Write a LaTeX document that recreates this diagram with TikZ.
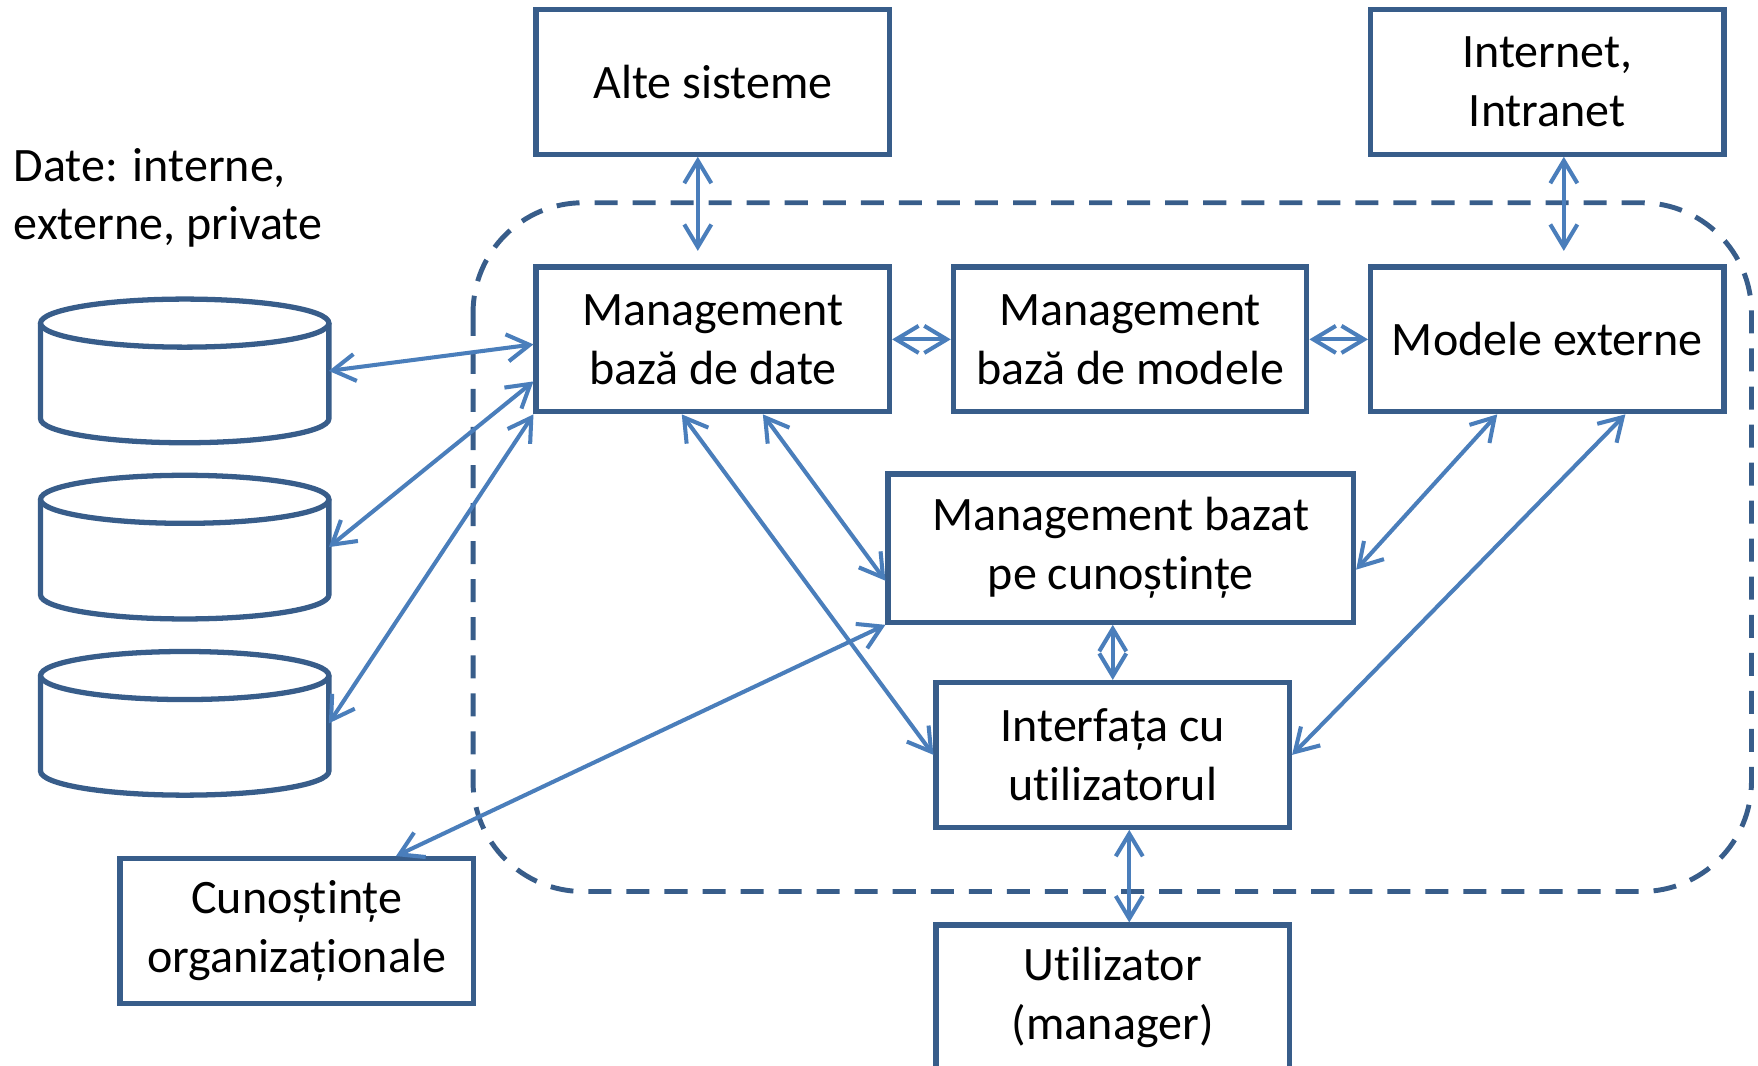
\documentclass[tikz,border=0pt]{standalone}
\usepackage{fontspec}
\setmainfont[Ligatures=NoCommon]{Carlito}
\usetikzlibrary{arrows.meta,positioning}
\definecolor{frame}{HTML}{385D8A}
\definecolor{wire}{HTML}{4A7EBB}
\tikzset{
  base/.style={font=\fontsize{27.3}{33.5}\selectfont,align=center,draw=frame,line width=3pt,fill=white,inner sep=2pt},
  box/.style={base,minimum width=7.06cm,minimum height=2.89cm},
  widebox/.style={base,minimum width=9.3cm,minimum height=2.96cm},
  store/.style={minimum width=5.76cm,minimum height=2.87cm,inner sep=0pt,outer sep=0pt},
  cask/.style={draw=frame,line width=3pt},
  boundary/.style={draw=frame,line width=2.8pt,dash pattern=on 0.46cm off 0.3cm,rounded corners=2.2cm},
  link/.style={<->,>={Straight Barb[length=4.5mm,width=5.4mm]},line width=2.3pt,draw=wire},
  note/.style={font=\fontsize{27.3}{33.5}\selectfont,align=left,inner sep=0pt}
}
\begin{document}
\begin{tikzpicture}[node distance=2.15cm and 1.17cm]
\useasboundingbox (0,0) rectangle (35.12,-21.28);
\draw[boundary] (9.45,-4.05) rectangle (34.99,-17.81);

\node[box] (mbd) at (14.24,-6.78) {Management\\bază de date};
\node[box,above=of mbd] (alte) {Alte sisteme};
\node[box,right=of mbd] (mbm) {Management\\bază de modele};
\node[box,right=of mbm] (modele) {Modele externe};
\node[box,above=of modele] (inet) {Internet,\\Intranet};
\node[widebox] (kb) at (22.39,-10.95) {Management bazat\\pe cunoștințe};
\node[box] (ui) at (22.23,-15.08) {Interfața cu\\utilizatorul};
\node[box,below=1.85cm of ui] (user) {Utilizator\\(manager)};
\node[box] (org) at (5.93,-18.60) {Cunoștințe\\organizaționale};

% data stores
\node[store] (db1) at (3.69,-7.41) {};
\node[store,below=0.65cm of db1] (db2) {};
\node[store,below=0.65cm of db2] (db3) {};
\foreach \d in {db1,db2,db3}{
  \draw[cask] ([yshift=-0.48cm]\d.north west) -- ([yshift=0.48cm]\d.south west)
    arc[start angle=180,end angle=360,x radius=2.88cm,y radius=0.48cm]
    -- ([yshift=-0.48cm]\d.north east);
  \draw[cask] ([yshift=-0.48cm]\d.north) ellipse[x radius=2.88cm,y radius=0.48cm];
}
\node[note,anchor=north west] (date) at (0.27,-2.95) {Date: interne,\\externe, private};

\draw[link,shorten >=0.27cm] ([xshift=-0.3cm]alte.south) -- ([xshift=-0.3cm]mbd.north);
\draw[link,shorten >=0.27cm] ([xshift=0.33cm]inet.south) -- ([xshift=0.33cm]modele.north);
\draw[link] (db1.east) -- ([yshift=-0.1cm]mbd.west);
\draw[link] (db2.east) -- ([yshift=-0.84cm]mbd.west);
\draw[link] (db3.east) -- (mbd.south west);
\draw[link] (mbd) -- (mbm);
\draw[link] (mbm) -- (modele);
\draw[link] ([xshift=-0.62cm]mbd.south) -- (ui.west);
\draw[link] ([xshift=1cm]mbd.south) -- ([yshift=-0.65cm]kb.west);
\draw[link] ([xshift=-1cm]modele.south) -- ([yshift=-0.43cm]kb.east);
\draw[link] ([xshift=1.56cm]modele.south) -- (ui.east);
\draw[link] (ui.north |- kb.south) -- (ui.north);
\draw[link] ([xshift=0.33cm]ui.south) -- ([xshift=0.33cm]user.north);
\draw[link] (kb.south west) -- ([xshift=1.98cm]org.north);
\end{tikzpicture}
\end{document}
